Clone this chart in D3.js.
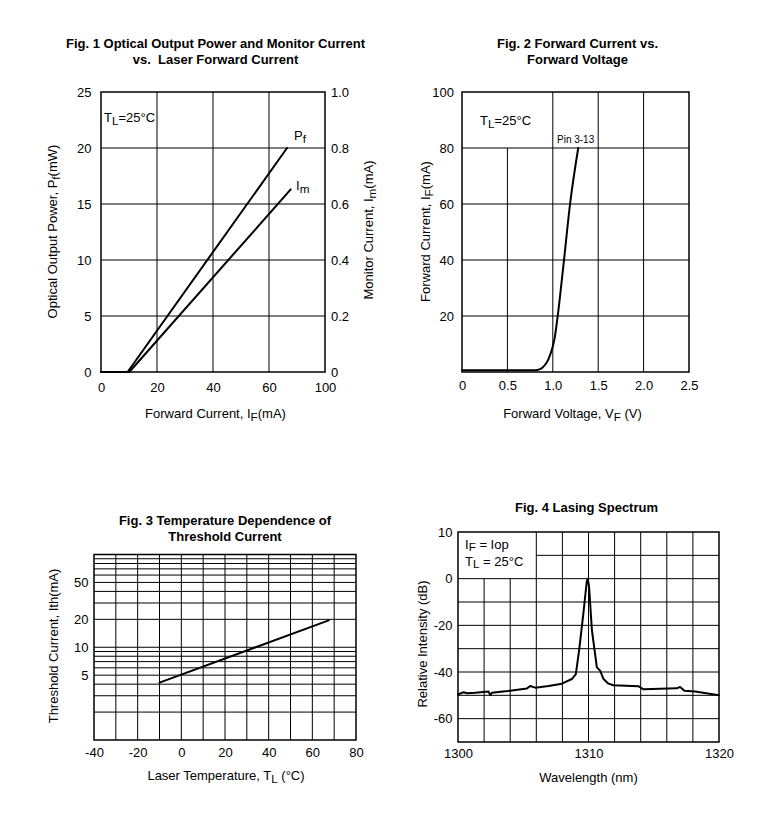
<!DOCTYPE html>
<html><head><meta charset="utf-8">
<script src="https://cdn.jsdelivr.net/npm/d3@7"></script>
<style>
body{margin:0;background:#fff}
svg text{font-family:"Liberation Sans",Arial,Helvetica,sans-serif;fill:#000}
</style>
</head><body>
<svg id="c" width="776" height="840"></svg>
<script>
// ---------- Fig. 1 data ----------
const fig1XTicks = [0, 20, 40, 60, 100];
const fig1PfTicks = [0, 5, 10, 15, 20, 25];
const fig1ImTicks = [0, 0.2, 0.4, 0.6, 0.8, 1.0];
const fig1ImTickLabels = ["0", "0.2", "0.4", "0.6", "0.8", "1.0"];
const fig1GridX = [20, 40, 60];
const fig1GridY = [5, 10, 15, 20];
const fig1PfCurrent = [0, 9.5, 72.9];
const fig1Pf = [0, 0, 20];
const fig1ImCurrent = [0, 10.1, 75.5];
const fig1Im = [0, 0, 0.652];

// ---------- Fig. 2 data ----------
const fig2XTicks = [0, 0.5, 1.0, 1.5, 2.0, 2.5];
const fig2XTickLabels = ["0", "0.5", "1.0", "1.5", "2.0", "2.5"];
const fig2YTicks = [20, 40, 60, 80, 100];
const fig2GridX = [0.5, 1.0, 1.5, 2.0];
const fig2GridY = [20, 40, 60, 80];
const fig2Voltage = [0, 0.5, 0.80, 0.86, 0.90, 0.95, 0.99, 1.02, 1.05, 1.12, 1.19, 1.28];
const fig2Current = [0.6, 0.6, 0.6, 1.0, 2.0, 4.4, 8, 12, 19, 39, 60, 80];

// ---------- Fig. 3 data ----------
const fig3XTicks = [-40, -20, 0, 20, 40, 60, 80];
const fig3GridX = [-30, -20, -10, 0, 10, 20, 30, 40, 50, 60, 70];
const fig3YTicks = [5, 10, 20, 50];
const fig3Temp = [-10, 67.5];
const fig3Ith = [4.15, 19.5];

// ---------- Fig. 4 data ----------
const fig4XTicks = [1300, 1310, 1320];
const fig4YTicks = [10, 0, -20, -40, -60];
const fig4GridX = [1302, 1304, 1306, 1308, 1310, 1312, 1314, 1316, 1318];
const fig4GridY = [5, 0, -10, -20, -30, -40, -50, -60];
const fig4Wavelength = [1300.00, 1300.43, 1300.69, 1301.32, 1302.34, 1302.47, 1302.60, 1303.62,
  1305.28, 1305.53, 1305.92, 1306.94, 1307.96, 1308.73, 1309.03, 1309.28, 1309.61, 1309.87,
  1309.95, 1310.05, 1310.26, 1310.64, 1310.89, 1311.15, 1311.53, 1311.91, 1313.82, 1314.21,
  1316.76, 1317.02, 1317.35, 1318.17, 1320.00];
const fig4Intensity = [-49.6, -48.7, -49.1, -48.9, -48.4, -49.9, -48.9, -48.3,
  -47.1, -46.0, -46.7, -46.0, -45.0, -43.0, -40.9, -30.7, -14.8, -1.0,
  0.0, -4.0, -22.0, -38.0, -39.4, -43.0, -45.0, -45.7, -46.1, -47.4,
  -47.0, -46.4, -48.0, -48.4, -50.0];

// ---------- helpers ----------
const svg = d3.select("#c");
const FS = 13;

function frame(p) {
  svg.append("rect").attr("x", p.l).attr("y", p.t).attr("width", p.r - p.l).attr("height", p.b - p.t)
    .attr("fill", "none").attr("stroke", "#000").attr("stroke-width", 1.5);
}
function vline(x, y1, y2) {
  svg.append("line").attr("x1", x).attr("x2", x).attr("y1", y1).attr("y2", y2)
    .attr("stroke", "#000").attr("stroke-width", 1);
}
function hline(y, x1, x2) {
  svg.append("line").attr("x1", x1).attr("x2", x2).attr("y1", y).attr("y2", y)
    .attr("stroke", "#000").attr("stroke-width", 1);
}
function title(lines, cx, y0) {
  lines.forEach((s, i) => svg.append("text").attr("x", cx).attr("y", y0 + i * 16)
    .attr("text-anchor", "middle").attr("font-weight", "bold").attr("font-size", 13)
    .style("white-space", "pre").text(s));
}
// parts: strings, or [string] for subscript
function addParts(t, parts, size, drop) {
  const d = drop || 3;
  let down = false;
  parts.forEach(p => {
    const sub = Array.isArray(p);
    const ts = t.append("tspan").text(sub ? p[0] : p);
    if (sub) {
      ts.attr("font-size", size * 0.9);
      if (!down) { ts.attr("dy", d); down = true; }
    } else if (down) { ts.attr("dy", -d); down = false; }
  });
}
function rich(x, y, parts, opts = {}) {
  const size = opts.size || FS;
  const t = svg.append("text").attr("x", x).attr("y", y).attr("font-size", size)
    .attr("text-anchor", opts.anchor || "start").style("white-space", "pre");
  if (opts.rotate) t.attr("transform", `rotate(-90,${x},${y})`);
  addParts(t, parts, size, opts.drop);
  return t;
}
function styleAxis(g) {
  g.select(".domain").remove();
  g.selectAll("text").attr("font-size", FS).attr("fill", "#000")
    .attr("font-family", '"Liberation Sans",Arial,Helvetica,sans-serif');
}
function curve(xs, ys, sx, sy, c) {
  const pts = xs.map((d, i) => [sx(d), sy(ys[i])]);
  svg.append("path").attr("d", d3.line().curve(c || d3.curveLinear)(pts))
    .attr("fill", "none").attr("stroke", "#000").attr("stroke-width", 2)
    .attr("stroke-linejoin", "round").attr("stroke-linecap", "round");
}

// ================= Fig. 1 =================
{
  const p = {l: 101, t: 92, r: 325, b: 372};
  const n = fig1XTicks.length - 1;
  const x = d3.scaleLinear().domain(fig1XTicks)
    .range(fig1XTicks.map((d, i) => p.l + i * (p.r - p.l) / n));
  const yPf = d3.scaleLinear().domain([0, 25]).range([p.b, p.t]);
  const yIm = d3.scaleLinear().domain([0, 1]).range([p.b, p.t]);

  fig1GridX.forEach(v => vline(x(v), p.t, p.b));
  fig1GridY.forEach(v => hline(yPf(v), p.l, p.r));
  frame(p);

  svg.append("g").attr("transform", `translate(0,${p.b})`)
    .call(d3.axisBottom(x).tickValues(fig1XTicks).tickSize(0).tickPadding(10.5).tickFormat(d => String(d)))
    .call(styleAxis);
  svg.append("g").attr("transform", `translate(${p.l},0)`)
    .call(d3.axisLeft(yPf).tickValues(fig1PfTicks).tickSize(0).tickPadding(9.5).tickFormat(d => String(d)))
    .call(styleAxis);
  svg.append("g").attr("transform", `translate(${p.r},0)`)
    .call(d3.axisRight(yIm).tickValues(fig1ImTicks).tickSize(0).tickPadding(6)
      .tickFormat((d, i) => fig1ImTickLabels[i]))
    .call(styleAxis);

  curve(fig1PfCurrent, fig1Pf, x, yPf);
  curve(fig1ImCurrent, fig1Im, x, yIm);

  title(["Fig. 1 Optical Output Power and Monitor Current", "vs.  Laser Forward Current"], 215.5, 47.5);
  rich(104, 122, ["T", ["L"], "=25°C"]);
  rich(294, 140, ["P", ["f"]]);
  rich(296, 190, ["I", ["m"]]);
  rich(215.5, 418, ["Forward Current, I", ["F"], "(mA)"], {anchor: "middle"});
  rich(56.5, 231.5, ["Optical Output Power, P", ["f"], "(mW)"], {anchor: "middle", rotate: true});
  rich(372.5, 230, ["Monitor Current, I", ["m"], "(mA)"], {anchor: "middle", rotate: true});
}

// ================= Fig. 2 =================
{
  const p = {l: 462, t: 92, r: 689, b: 372};
  const x = d3.scaleLinear().domain([0, 2.5]).range([p.l, p.r]);
  const y = d3.scaleLinear().domain([0, 100]).range([p.b, p.t]);
  // label region (no gridlines): V in [0,1.0], IF in [80,100]
  fig2GridX.forEach(v => vline(x(v), v < 1.0 ? y(80) : p.t, p.b));
  fig2GridY.forEach(v => hline(y(v), p.l, p.r));
  frame(p);

  svg.append("g").attr("transform", `translate(0,${p.b})`)
    .call(d3.axisBottom(x).tickValues(fig2XTicks).tickSize(0).tickPadding(8.5)
      .tickFormat((d, i) => fig2XTickLabels[i]))
    .call(styleAxis);
  svg.append("g").attr("transform", `translate(${p.l},0)`)
    .call(d3.axisLeft(y).tickValues(fig2YTicks).tickSize(0).tickPadding(8).tickFormat(d => String(d)))
    .call(styleAxis);

  curve(fig2Voltage, fig2Current, x, y, d3.curveMonotoneX);

  title(["Fig. 2 Forward Current vs.", "Forward Voltage"], 577.5, 47.5);
  rich(480, 125, ["T", ["L"], "=25°C"]);
  svg.append("text").attr("x", 557).attr("y", 143).attr("font-size", 10).text("Pin 3-13");
  rich(572.5, 418, ["Forward Voltage, V", ["F"], " (V)"], {anchor: "middle"});
  rich(429.5, 231.5, ["Forward Current, I", ["F"], "(mA)"], {anchor: "middle", rotate: true});
}

// ================= Fig. 3 =================
{
  const p = {l: 94, t: 554.5, r: 356, b: 740};
  const x = d3.scaleLinear().domain([-40, 80]).range([p.l, p.r]);
  const y = d3.scaleLog().domain([1, 100]).range([p.b, p.t]);
  fig3GridX.forEach(v => vline(x(v), p.t, p.b));
  const logGrid = [];
  [1, 10].forEach(dec => d3.range(1, 10).forEach(m => logGrid.push(m * dec)));
  logGrid.filter(v => v > 1).forEach(v => hline(y(v), p.l, p.r));
  frame(p);

  svg.append("g").attr("transform", `translate(0,${p.b})`)
    .call(d3.axisBottom(x).tickValues(fig3XTicks).tickSize(0).tickPadding(7.8).tickFormat(d => String(d)))
    .call(styleAxis);
  svg.append("g").attr("transform", `translate(${p.l},0)`)
    .call(d3.axisLeft(y).tickValues(fig3YTicks).tickSize(0).tickPadding(5.5).tickFormat(d => String(d)))
    .call(styleAxis);

  curve(fig3Temp, fig3Ith, x, y);

  title(["Fig. 3 Temperature Dependence of", "Threshold Current"], 225, 524.5);
  rich(226, 780, ["Laser Temperature, T", ["L"], " (°C)"], {anchor: "middle"});
  rich(57.5, 646, ["Threshold Current, Ith(mA)"], {anchor: "middle", rotate: true});
}

// ================= Fig. 4 =================
{
  const p = {l: 458, t: 532, r: 719, b: 742};
  const h = p.b - p.t;
  const x = d3.scaleLinear().domain([1300, 1320]).range([p.l, p.r]);
  const y = d3.scaleLinear().domain([-70, 0, 10]).range([p.b, p.b - h * 7 / 9, p.t]);
  // label region (no gridlines): 1300-1306 nm, 0-10 dB
  fig4GridX.forEach(v => vline(x(v), v < 1306 ? y(0) : p.t, p.b));
  fig4GridY.forEach(v => hline(y(v), v > 0 ? x(1306) : p.l, p.r));
  frame(p);

  svg.append("g").attr("transform", `translate(0,${p.b})`)
    .call(d3.axisBottom(x).tickValues(fig4XTicks).tickSize(0).tickPadding(7).tickFormat(d => String(d)))
    .call(styleAxis);
  svg.append("g").attr("transform", `translate(${p.l},0)`)
    .call(d3.axisLeft(y).tickValues(fig4YTicks).tickSize(0).tickPadding(5.5).tickFormat(d => String(d)))
    .call(styleAxis);

  curve(fig4Wavelength, fig4Intensity, x, y);

  title(["Fig. 4 Lasing Spectrum"], 586.5, 512);
  rich(465, 549, ["I", ["F"], " = Iop"], {drop: 2});
  rich(465, 565.5, ["T", ["L"], " = 25°C"], {drop: 2});
  rich(588.5, 782, ["Wavelength (nm)"], {anchor: "middle"});
  rich(426.5, 644, ["Relative Intensity (dB)"], {anchor: "middle", rotate: true});
}
</script>
</body></html>
